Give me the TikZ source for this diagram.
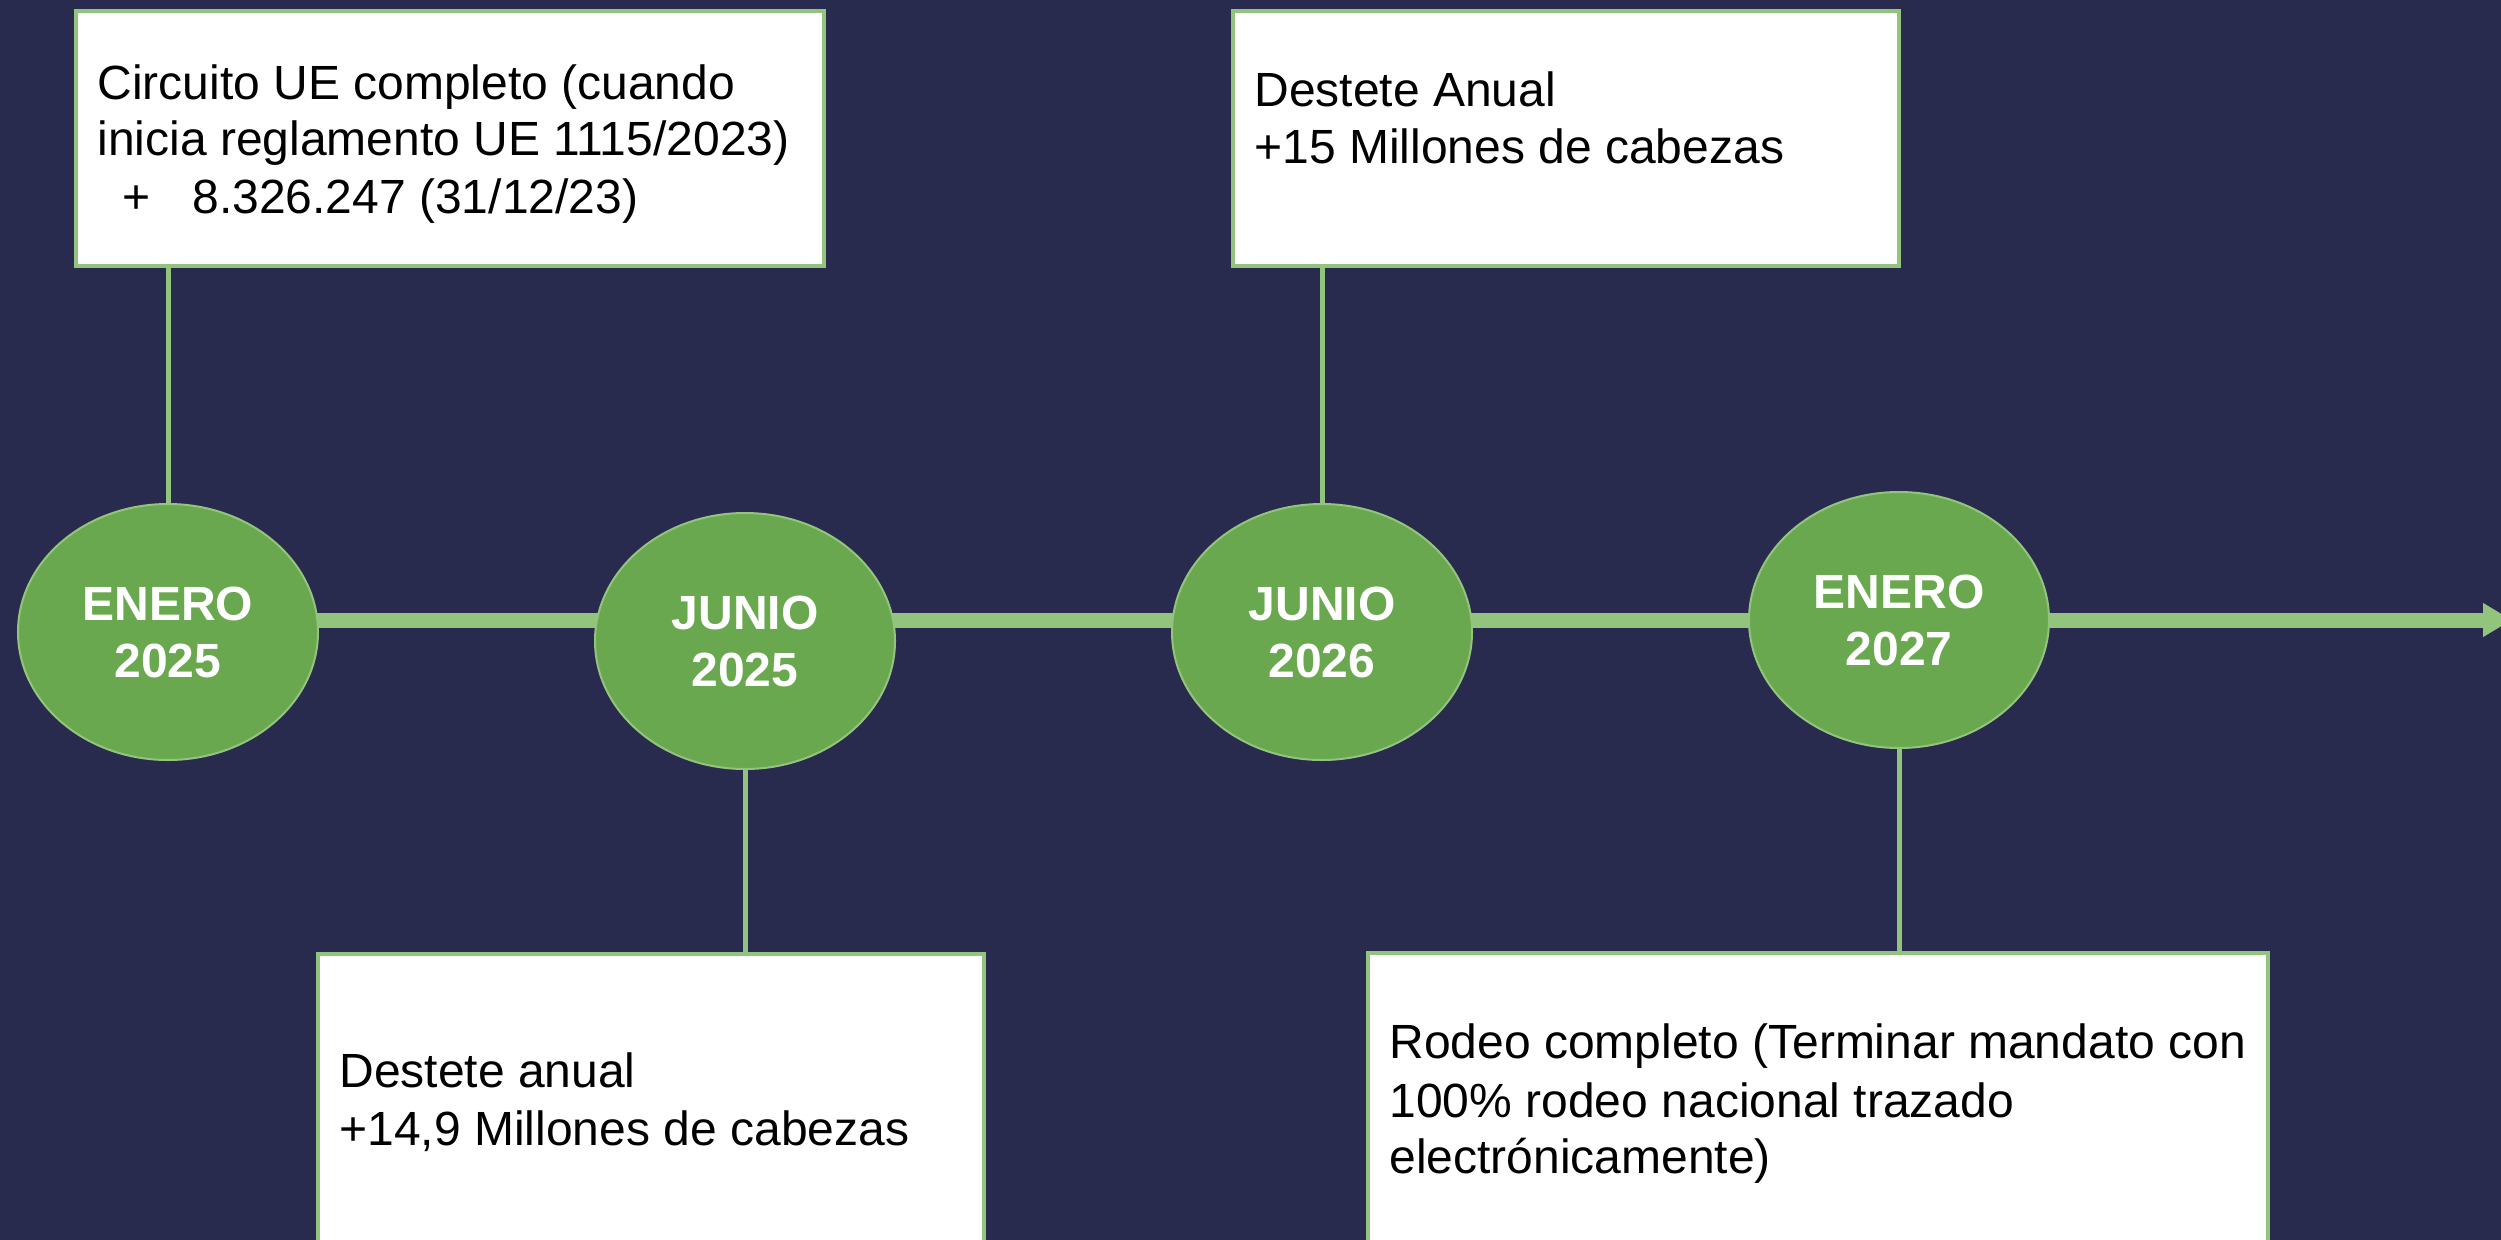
\documentclass[tikz,border=0pt]{standalone}
\usepackage{fontspec}
\setmainfont{Liberation Sans}
\usetikzlibrary{arrows.meta,shapes.geometric}
\definecolor{navy}{RGB}{41,43,78}
\definecolor{leaf}{RGB}{106,168,79}
\definecolor{pale}{RGB}{147,196,125}
\pgfdeclarelayer{back}
\pgfdeclarelayer{under}
\pgfsetlayers{back,under,main}
\begin{document}
\begin{tikzpicture}[x=0.4pt,y=-0.4pt,
  milestone/.style={ellipse, fill=leaf, draw=pale, line width=0.8pt,
    minimum width=120pt, minimum height=102.4pt, inner sep=0pt,
    text=white, font=\fontsize{19.2pt}{22.8pt}\selectfont\bfseries, align=center},
  infobox/.style={rectangle, fill=white, draw=pale, line width=1.4pt, inner sep=0pt},
  boxtext/.style={anchor=base west, inner sep=0pt,
    font=\fontsize{19.2pt}{22.8pt}\selectfont, text=black},
  timebar/.style={pale, line width=6pt, -{Triangle[width=12.8pt,length=11.6pt]}},
  conn/.style={pale, line width=2pt}]
\begin{pgfonlayer}{back}
  \fill[navy] (0,0) rectangle (2501,1240);
\end{pgfonlayer}
\useasboundingbox (0,0) rectangle (2501,1240);

% milestones
\node[milestone] (e1) at (168,632) {ENERO\\2025};
\node[milestone] (e2) at (745,641) {JUNIO\\2025};
\node[milestone] (e3) at (1322,632) {JUNIO\\2026};
\node[milestone] (e4) at (1899,620) {ENERO\\2027};

% boxes
\node[infobox, minimum width=299.2pt, minimum height=102pt] (b1) at (450,138.5) {};
\node[infobox, minimum width=266.4pt, minimum height=102pt] (b3) at (1566,138.5) {};
\node[infobox, minimum width=266.4pt, minimum height=118.4pt] (b2) at (651,1102) {};
\node[infobox, minimum width=360pt, minimum height=118.8pt] (b4) at (1818,1101.5) {};

% texts
\node[boxtext] (t1a) at (97,99) {Circuito UE completo (cuando};
\node[boxtext] (t1b) at (97,155) {inicia reglamento UE 1115/2023)};
\node[boxtext] (t1c) at (122,213) {+};
\node[boxtext] (t1d) at (192,213) {8.326.247 (31/12/23)};
\node[boxtext] (t3a) at (1254,106) {Destete Anual};
\node[boxtext] (t3b) at (1254,163) {+15 Millones de cabezas};
\node[boxtext] (t2a) at (339,1087) {Destete anual};
\node[boxtext] (t2b) at (339,1145) {+14,9 Millones de cabezas};
\node[boxtext] (t4a) at (1389,1058) {Rodeo completo (Terminar mandato con};
\node[boxtext] (t4b) at (1389,1117) {100\% rodeo nacional trazado};
\node[boxtext] (t4c) at (1389,1173) {electrónicamente)};

% connectors and timeline
\coordinate (tip) at (2512,620);
\begin{pgfonlayer}{under}
  \draw[timebar] (e1.center |- tip) -- (tip);
  \draw[conn] (e1.north) -- (e1.north |- b1.south);
  \draw[conn] (e2.south) -- (e2.south |- b2.north);
  \draw[conn] (e3.north) -- (e3.north |- b3.south);
  \draw[conn] (e4.south) -- (e4.south |- b4.north);
\end{pgfonlayer}
\end{tikzpicture}
\end{document}
